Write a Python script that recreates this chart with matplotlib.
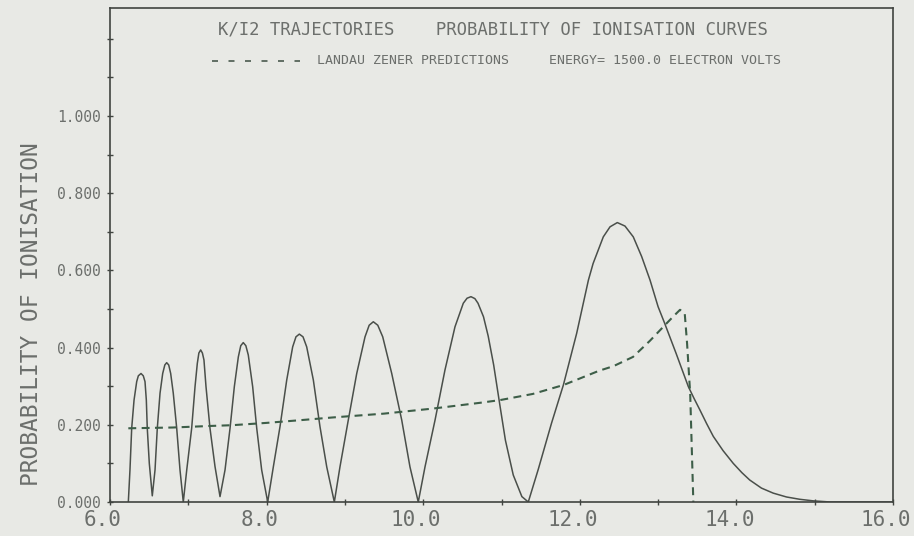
import numpy as np
import matplotlib
matplotlib.use("Agg")
import matplotlib.pyplot as plt
from matplotlib.lines import Line2D
from matplotlib.ticker import MultipleLocator, FixedLocator
from matplotlib.transforms import ScaledTranslation

# ionisation probability vs impact parameter (trajectory calculation)
ion_x = [6.234, 6.255, 6.277, 6.307, 6.341, 6.362, 6.396, 6.425, 6.447, 6.464, 6.476, 6.502, 6.540,
         6.575, 6.604, 6.639, 6.673, 6.700, 6.724, 6.750, 6.775, 6.808, 6.852, 6.894, 6.936,
         6.980, 7.043, 7.086, 7.115, 7.135, 7.158, 7.180, 7.200, 7.226, 7.277, 7.341, 7.405,
         7.469, 7.533, 7.588, 7.639, 7.670, 7.702, 7.735, 7.766, 7.822, 7.874, 7.937, 8.014,
         8.086, 8.171, 8.257, 8.333, 8.375, 8.418, 8.465, 8.512, 8.597, 8.682, 8.768, 8.865,
         8.937, 9.043, 9.151, 9.257, 9.310, 9.363, 9.420, 9.483, 9.598, 9.726, 9.831, 9.937,
         10.023, 10.151, 10.278, 10.406, 10.512, 10.560, 10.610, 10.660, 10.700, 10.770, 10.830,
         10.900, 10.980, 11.050, 11.150, 11.260, 11.342,
         11.470, 11.640, 11.790, 11.960, 12.110, 12.170, 12.300, 12.386, 12.479, 12.577, 12.683,
         12.790, 12.897, 13.000, 13.080, 13.230, 13.386, 13.460, 13.535, 13.620, 13.705, 13.830,
         13.960, 14.070, 14.170, 14.320, 14.470, 14.640, 14.810, 14.980, 15.200, 16.000]
ion_p = [0.000, 0.083, 0.191, 0.264, 0.312, 0.327, 0.333, 0.327, 0.312, 0.264, 0.191, 0.100, 0.016,
         0.083, 0.191, 0.282, 0.333, 0.355, 0.361, 0.355, 0.333, 0.282, 0.191, 0.083, 0.000,
         0.083, 0.191, 0.299, 0.359, 0.386, 0.394, 0.386, 0.368, 0.299, 0.191, 0.092, 0.014,
         0.083, 0.191, 0.299, 0.376, 0.405, 0.413, 0.405, 0.381, 0.299, 0.191, 0.083, 0.000,
         0.091, 0.195, 0.316, 0.402, 0.428, 0.435, 0.428, 0.402, 0.316, 0.195, 0.091, 0.000,
         0.091, 0.212, 0.333, 0.428, 0.458, 0.467, 0.458, 0.428, 0.333, 0.212, 0.091, 0.000,
         0.091, 0.212, 0.342, 0.454, 0.515, 0.528, 0.532, 0.527, 0.515, 0.480, 0.430,
         0.355, 0.250, 0.160, 0.070, 0.014, 0.000,
         0.085, 0.205, 0.303, 0.437, 0.575, 0.618, 0.687, 0.713, 0.724, 0.715, 0.687,
         0.636, 0.575, 0.506, 0.465, 0.385, 0.299, 0.268, 0.238, 0.203, 0.170, 0.133,
         0.100, 0.076, 0.057, 0.036, 0.023, 0.013, 0.007, 0.003, 0.000, 0.000]

# Landau-Zener prediction
lz_x = [6.234, 6.800, 7.277, 7.560, 8.000, 8.430, 8.840, 9.500, 10.120, 10.725, 10.980, 11.400,
        11.790, 12.000, 12.245, 12.430, 12.680, 12.897, 13.090, 13.200, 13.280, 13.340, 13.370,
        13.410, 13.450]
lz_p = [0.191, 0.193, 0.197, 0.199, 0.205, 0.212, 0.219, 0.229, 0.242, 0.257, 0.264, 0.280,
        0.303, 0.320, 0.340, 0.352, 0.376, 0.418, 0.459, 0.482, 0.498, 0.489, 0.411,
        0.280, 0.000]

x_labels = [6.0, 8.0, 10.0, 12.0, 14.0, 16.0]
y_labels = [0.0, 0.2, 0.4, 0.6, 0.8, 1.0]

paper = "#e8e9e5"
ink = "#404440"
txt = "#6c6f6c"
mono = "DejaVu Sans Mono"

W, H = 914, 536
fig = plt.figure(figsize=(W / 100, H / 100), dpi=100)
fig.patch.set_facecolor(paper)
ax = fig.add_axes([110 / W, 34 / H, 783 / W, 494 / H])
ax.set_facecolor(paper)

ax.plot(ion_x, ion_p, color="#4a4f4a", lw=1.1)
ax.plot(lz_x, lz_p, color="#3d5e48", lw=1.5, linestyle=(0, (3.8, 2.6)))

ax.set_xlim(6.0, 16.0)
ax.set_ylim(0.0, 1.28)

for s in ax.spines.values():
    s.set_color(ink)
    s.set_linewidth(1.2)

ax.xaxis.set_major_locator(FixedLocator(x_labels))
ax.xaxis.set_minor_locator(MultipleLocator(1.0))
ax.yaxis.set_major_locator(FixedLocator(y_labels))
ax.yaxis.set_minor_locator(FixedLocator([0.1, 0.3, 0.5, 0.7, 0.9, 1.1, 1.2]))
ax.set_xticklabels(["%.1f" % v for v in x_labels], fontfamily=mono, fontsize=15, color=txt)
ax.set_yticklabels(["%.3f" % v for v in y_labels], fontfamily=mono, fontsize=10.5, color=txt)
ax.tick_params(which="both", direction="inout", length=5, width=1.0, color=ink)
ax.tick_params(axis="x", pad=3)
ax.tick_params(axis="y", pad=4)

# plotter put the x labels a little left of their ticks
shift = ScaledTranslation(-0.07, 0, fig.dpi_scale_trans)
for lab in ax.get_xticklabels():
    lab.set_transform(lab.get_transform() + shift)

fig.text(32 / W, 1 - 314 / H, "PROBABILITY OF IONISATION", rotation=90,
         ha="center", va="center", fontfamily=mono, fontsize=16.5, color=txt)

fig.text(218 / W, 1 - 29 / H, "K/I2 TRAJECTORIES    PROBABILITY OF IONISATION CURVES",
         ha="left", va="center", fontfamily=mono, fontsize=12.4, color=txt)

fig.add_artist(Line2D([212 / W, 300 / W], [1 - 61 / H, 1 - 61 / H], transform=fig.transFigure,
                      color="#4a5a4e", lw=1.2, linestyle=(0, (3.6, 6.3))))
fig.text(317 / W, 1 - 61 / H, "LANDAU ZENER PREDICTIONS     ENERGY= 1500.0 ELECTRON VOLTS",
         ha="left", va="center", fontfamily=mono, fontsize=9.5, color=txt)

fig.savefig("out.png", dpi=100, facecolor=paper)
